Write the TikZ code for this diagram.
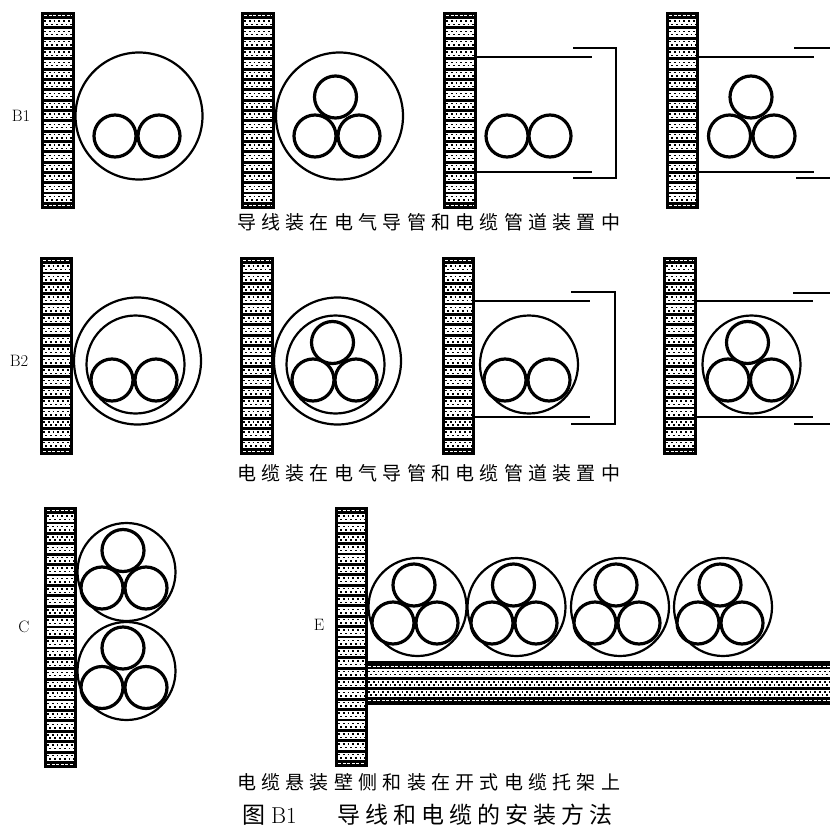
\documentclass[tikz,border=0pt]{standalone}
\usepackage{fontspec}
\newfontfamily\cjkcap[LetterSpace=27.7]{Noto Sans CJK SC}
\newfontfamily\cjktitle[LetterSpace=21.7]{Noto Sans CJK SC}
\tikzset{
    core/.style={line width=3.2pt},
    conduit/.style={line width=2.2pt},
    trunk/.style={line width=2.3pt},
    speck/.style={black,line width=1.5pt,dash pattern=on 1.8pt off 3pt},
    rim/.style={white,line width=1pt,dash pattern=on 3pt off 1.5pt},
    caption/.style={anchor=west,inner sep=0pt,font=\fontsize{19}{21}\selectfont\cjkcap},
    rowlabel/.style={inner sep=0pt,font=\fontsize{16.5}{18}\selectfont}
}
% wall: x1, x2, y1, y2
\newcommand{\wallv}[4]{
    \fill (#1,#3) rectangle (#2,#4);
    \draw[rim] (#1+3,#3+3.5) -- (#2-3,#3+3.5);
    \draw[rim] (#1+3,#4-3.5) -- (#2-3,#4-3.5);
    \pgfmathtruncatemacro{\nband}{round((#4-#3-21.4)/10.45)}
    \pgfmathsetmacro{\pitch}{(#4-#3-21.4)/\nband}
    \foreach \i in {0,...,\nband}{
        \pgfmathsetmacro{\yc}{#3+10.7+\i*\pitch}
        \fill[white] (#1+3,\yc-3.8) rectangle (#2-3,\yc+3.8);
        \draw[speck] (#1+3,\yc-1.7) -- (#2-3,\yc-1.7);
        \draw[speck,dash phase=2.4pt] (#1+3,\yc+1.7) -- (#2-3,\yc+1.7);
    }
}
% three cores: top x, top y, left x, right x, lower y
\newcommand{\triad}[5]{
    \draw[core] (#1,#2) circle (21);
    \draw[core] (#3,#5) circle (21);
    \draw[core] (#4,#5) circle (21);
}
\begin{document}
\begin{tikzpicture}[x=1pt,y=-1pt]
    \useasboundingbox (0,0) rectangle (830,834);
    % walls
    \foreach \xa/\xb in {41/75,241/275,443/477,666/699}
        \wallv{\xa}{\xb}{12}{209};
    \foreach \xa/\xb in {40/73,240/274,442/475,663/697}
        \wallv{\xa}{\xb}{257}{455};
    \wallv{44}{77}{507}{768};
    \wallv{335}{368}{507}{767};
    % tray
    \fill (368,661) rectangle (830,705);
    \draw[rim] (368,666) -- (830,666);
    \draw[rim] (368,700.5) -- (830,700.5);
    \foreach \yc in {673,683.5,693.5}{
        \fill[white] (368,\yc-3.8) rectangle (830,\yc+3.8);
        \draw[speck] (368,\yc-1.7) -- (830,\yc-1.7);
        \draw[speck,dash phase=2.4pt] (368,\yc+1.7) -- (830,\yc+1.7);
    }
    % row B1
    \draw[conduit] (139,116) circle (63.5);
    \draw[core] (115,136) circle (21);
    \draw[core] (159,136) circle (21);
    \draw[conduit] (339.5,116) circle (63.5);
    \triad{335.5}{97}{315}{359}{136}
    \draw[trunk] (477,57) -- (592,57);
    \draw[trunk] (477,172) -- (592,172);
    \draw[trunk] (573,48) -- (616,48) -- (616,178) -- (573,178);
    \draw[core] (507,136) circle (21);
    \draw[core] (550,136) circle (21);
    \draw[trunk] (699,57) -- (814,57);
    \draw[trunk] (699,172) -- (814,172);
    \draw[trunk] (794,48) -- (830,48);
    \draw[trunk] (796,178) -- (830,178);
    \triad{751}{97}{729.5}{774}{136}
    % row B2
    \draw[conduit] (137.5,361) circle (63.5);
    \draw[conduit] (135.5,364.5) circle (49);
    \draw[core] (112,380) circle (21);
    \draw[core] (156,380) circle (21);
    \draw[conduit] (337.5,361) circle (63.5);
    \draw[conduit] (335.5,364.5) circle (49);
    \triad{332.5}{342.5}{313}{356}{380}
    \draw[trunk] (475,301) -- (590,301);
    \draw[trunk] (475,417) -- (590,417);
    \draw[trunk] (571,292) -- (615,292) -- (615,424) -- (571,424);
    \draw[conduit] (529,364.5) circle (49);
    \draw[core] (505,380) circle (21);
    \draw[core] (549,380) circle (21);
    \draw[trunk] (697,301) -- (813,301);
    \draw[trunk] (697,417) -- (813,417);
    \draw[trunk] (793,293) -- (830,293);
    \draw[trunk] (794,424) -- (830,424);
    \draw[conduit] (751.5,364.5) circle (49);
    \triad{747.5}{342.5}{728}{771.5}{380}
    % row C
    \draw[conduit] (126.5,572) circle (49);
    \triad{123}{550.5}{102}{146}{588}
    \draw[conduit] (126.5,671) circle (49);
    \triad{123}{648}{102}{146}{687.5}
    % row E
    \foreach \xc/\xt/\xl/\xr in {417.5/414/393/437,516.5/513.5/492/536,620/616/595/639,723/720/698/742}{
        \draw[conduit] (\xc,607) circle (49);
        \triad{\xt}{585}{\xl}{\xr}{623}
    }
    % labels
    \node[rowlabel] (labelbone) at (21,116) {B1};
    \node[rowlabel] (labelbtwo) at (19,361) {B2};
    \node[rowlabel] (labelc) at (24,627) {C};
    \node[rowlabel] (labele) at (319,625) {E};
    \node[caption] (capbone) at (237,222) {导线装在电气导管和电缆管道装置中};
    \node[caption] (capbtwo) at (237,473) {电缆装在电气导管和电缆管道装置中};
    \node[caption] (capce) at (237,782) {电缆悬装壁侧和装在开式电缆托架上};
    \node[anchor=west,inner sep=0pt,font=\fontsize{23}{25}\selectfont] (title) at (242,815)
        {{\cjktitle 图}\hspace{6pt}B1\hspace{41pt}{\cjktitle 导线和电缆的安装方法}};
\end{tikzpicture}
\end{document}
